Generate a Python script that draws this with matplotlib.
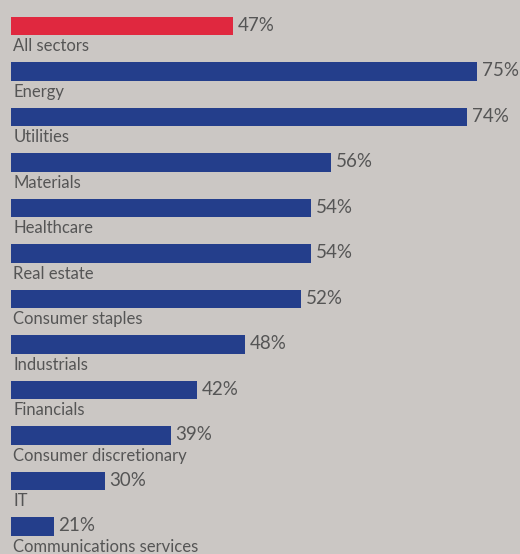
import matplotlib.pyplot as plt

# Sector shares (labels) and drawn bar lengths
sectors = [
    "All sectors", "Energy", "Utilities", "Materials", "Healthcare",
    "Real estate", "Consumer staples", "Industrials", "Financials",
    "Consumer discretionary", "IT", "Communications services",
]
values = [47, 75, 74, 56, 54, 54, 52, 48, 42, 39, 30, 21]
bar_lengths = [35.7, 75, 73.4, 51.5, 48.3, 48.3, 46.7, 37.7, 29.9, 25.7, 15.1, 6.9]

BG = "#cbc7c4"
RED = "#e0283f"
BLUE = "#243e8b"
TEXT = "#555555"
FONT = ["Lato", "DejaVu Sans"]

fig = plt.figure(figsize=(5.2, 5.54), dpi=100, facecolor=BG)
ax = fig.add_axes([0, 0, 1, 1], facecolor=BG)

colors = [RED] + [BLUE] * (len(sectors) - 1)
idx = list(range(len(sectors)))
ax.barh(idx, bar_lengths, height=0.4, color=colors, left=0)

for i, (name, v, b) in enumerate(zip(sectors, values, bar_lengths)):
    ax.text(0.4, i + 0.55, name, ha="left", va="baseline",
            fontsize=12, color=TEXT, family=FONT)
    ax.text(b + 0.75, i - 0.02, f"{v}%", ha="left", va="center",
            fontsize=13.5, color=TEXT, family=FONT)

ax.set_xlim(-1.77, 81.9)
ax.set_ylim(11.604, -0.571)
ax.axis("off")

fig.savefig("out.png", dpi=100, facecolor=BG)
